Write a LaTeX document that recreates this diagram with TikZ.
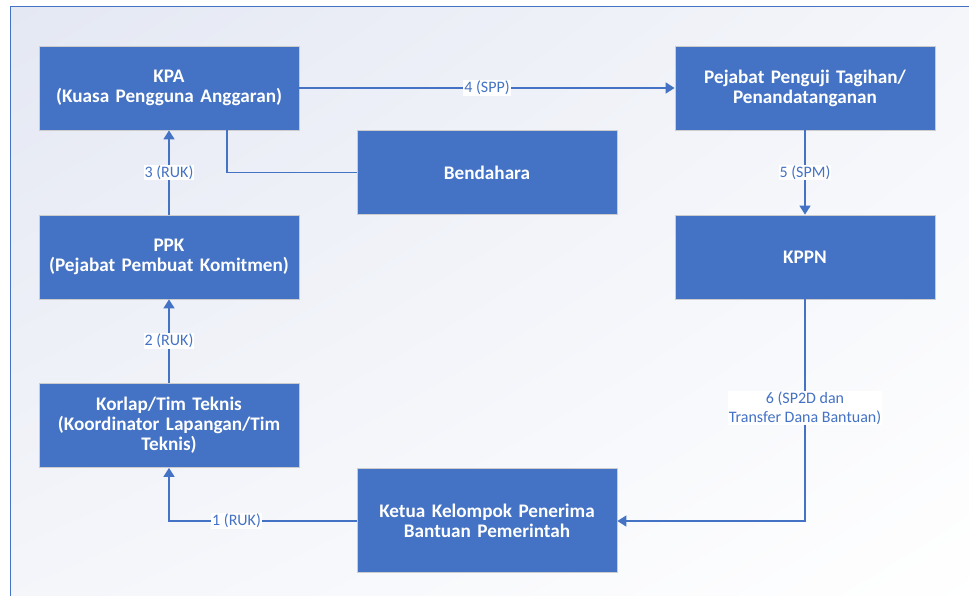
\documentclass[tikz,border=0pt]{standalone}
\usepackage{fontspec}
\setmainfont{Carlito}
\usetikzlibrary{arrows.meta,shadings}
\definecolor{boxblue}{HTML}{4472C4}
\definecolor{bgtop}{HTML}{E4E8F3}
\begin{document}
\begin{tikzpicture}[x=1pt,y=-1pt,
  box/.style={draw=black!20,line width=0.8pt,fill=boxblue,text=white,font=\bfseries\fontsize{19.2}{20}\selectfont,
    minimum width=260pt,minimum height=84pt,align=center,inner sep=2pt,text width=250pt},
  conn/.style={draw=boxblue,line width=1.6pt},
  arr/.style={conn,-{Triangle[length=9pt,width=11pt]}},
  lbl/.style={fill=white,text=boxblue,font=\fontsize{16}{19}\selectfont,inner sep=1pt,align=center}]
\useasboundingbox (0,0) rectangle (969,595);
\fill[white] (0,0) rectangle (969,595);
\shade[upper left=bgtop,lower right=white,upper right=bgtop!40!white,lower left=bgtop!40!white] (10,6) rectangle (980,605);
\draw[boxblue,line width=1pt] (10,605) -- (10,6) -- (980,6);
\node[box] (kpa) at (169,88) {KPA\\(Kuasa Pengguna Anggaran)};
\node[box] (ppt) at (805,88) {Pejabat Penguji Tagihan/\\Penandatanganan};
\node[box] (ben) at (487,172.5) {Bendahara};
\node[box] (ppk) at (169,257) {PPK\\(Pejabat Pembuat Komitmen)};
\node[box] (kppn) at (805,257) {KPPN};
\node[box] (kor) at (169,425.5) {Korlap/Tim Teknis\\(Koordinator Lapangan/Tim\\Teknis)};
\node[box,minimum height=104pt] (ket) at (487,520.5) {Ketua Kelompok Penerima\\Bantuan Pemerintah};
\coordinate (c1) at (169,521);
\coordinate (c6) at (805,521);
\coordinate (cb) at (227,172.5);
\draw[arr] (ket.west |- c1) -- node[lbl,pos=0.64] {1 (RUK)} (c1) -- (kor.south);
\draw[arr] (kor.north) -- node[lbl] {2 (RUK)} (ppk.south);
\draw[arr] (ppk.north) -- node[lbl] {3 (RUK)} (kpa.south);
\draw[conn] (kpa.south -| cb) -- (cb) -- (ben.west);
\draw[arr] (kpa.east) -- node[lbl] {4 (SPP)} (ppt.west);
\draw[arr] (ppt.south) -- node[lbl] {5 (SPM)} (kppn.north);
\draw[arr] (kppn.south) -- node[lbl,pos=0.49] {6 (SP2D dan\\Transfer Dana Bantuan)} (c6) -- (ket.east |- c6);
\end{tikzpicture}
\end{document}
